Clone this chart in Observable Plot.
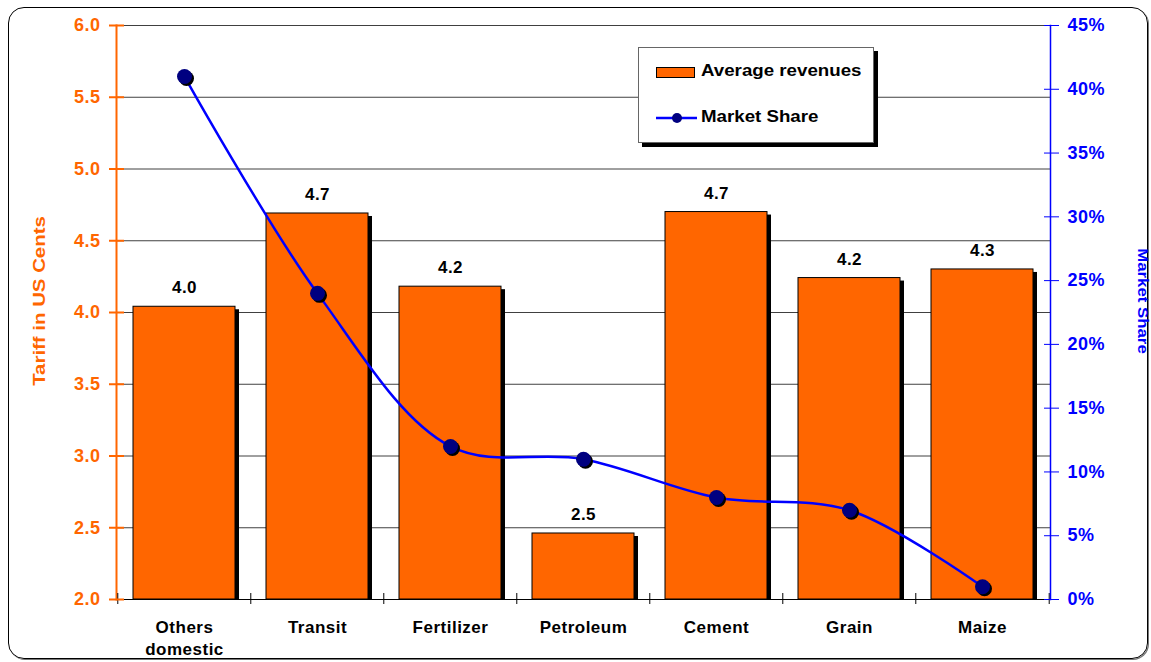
<!DOCTYPE html>
<html>
<head>
<meta charset="utf-8">
<script src="https://cdn.jsdelivr.net/npm/d3@7"></script>
<script src="https://cdn.jsdelivr.net/npm/@observablehq/plot@0.6"></script>
<style>
  html, body { margin: 0; padding: 0; background: #fff; }
  #wrap { position: relative; width: 1151px; height: 662px; overflow: hidden; font-family: "Liberation Sans", Arial, sans-serif; font-weight: bold; }
  #wrap svg { position: absolute; left: 0; top: 0; }
  #wrap svg text { letter-spacing: 0.5px; font-weight: bold; }
  #border { position: absolute; left: 8px; top: 7px; width: 1138px; height: 650px; border: 1.5px solid #000; border-radius: 16px; box-shadow: 1px 1px 0 #777; }
  .vtitle { position: absolute; white-space: nowrap; }
  #legend { position: absolute; left: 638px; top: 47px; width: 234px; height: 94px; border: 1px solid #666; background: #fff; box-shadow: 4px 4px 0 #000; }
  .lg-text { position: absolute; left: 62px; font-size: 17px; color: #000; white-space: nowrap; transform: scaleX(1.1); transform-origin: left center; }
</style>
</head>
<body>
<div id="wrap">
  <div id="border"></div>
  <div id="chart"></div>
</div>
<script>
// ---------- data ----------
const categories = ["Others domestic", "Transit", "Fertilizer", "Petroleum", "Cement", "Grain", "Maize"];
const revenues = [4.04, 4.69, 4.18, 2.46, 4.70, 4.24, 4.30];      // Tariff in US cents
const marketShare = [41, 24, 12, 11, 8, 7, 1];                       // percent
const leftTicks = [2.0, 2.5, 3.0, 3.5, 4.0, 4.5, 5.0, 5.5, 6.0];
const rightTicks = [0, 5, 10, 15, 20, 25, 30, 35, 40, 45];
const seriesNames = ["Average revenues", "Market Share"];
const axisTitles = ["Tariff in US Cents", "Market Share"];

const data = categories.map((c, i) => ({category: c, revenue: revenues[i], share: marketShare[i]}));

// ---------- layout ----------
const W = 1151, H = 662;
const M = {left: 116, right: 101, top: 25, bottom: 63};
const step = (W - M.left - M.right) / categories.length;
const ORANGE = "#FF6600", BLUE = "#0000FF", NAVY = "#000080";
const font = "Liberation Sans, Arial, sans-serif";
const xScale = {type: "band", domain: categories, paddingInner: 0.23, paddingOuter: 0.115};
const base = leftTicks[0];

const plot1 = Plot.plot({
  width: W, height: H,
  marginLeft: M.left, marginRight: M.right, marginTop: M.top, marginBottom: M.bottom,
  style: {fontFamily: font, background: "transparent", overflow: "visible"},
  x: xScale,
  y: {domain: [leftTicks[0], leftTicks[leftTicks.length - 1]]},
  marks: [
    Plot.gridY(leftTicks.slice(1), {stroke: "#000", strokeOpacity: 0.75, strokeWidth: 1}),
    // bar shadows
    Plot.rectY(data, {x: "category", y1: () => base, y2: "revenue", fill: "#000", dx: 4, dy: 3, insetBottom: 3}),
    // bars
    Plot.rectY(data, {x: "category", y1: () => base, y2: "revenue", fill: ORANGE, stroke: "#000", strokeWidth: 1}),
    // value labels
    Plot.text(data, {x: "category", y: "revenue", text: d => d.revenue.toFixed(1), dy: -19, fontSize: 17, fontWeight: "bold", fill: "#000"}),
    // axis lines
    Plot.frame({anchor: "bottom", stroke: "#000", strokeWidth: 1}),
    Plot.frame({anchor: "left", stroke: ORANGE, strokeWidth: 2}),
    // category boundary ticks
    Plot.ruleX(categories, {x: d => d, dx: -step / 2, y1: () => base, y2: () => base, insetTop: -6, insetBottom: -5, stroke: "#000"}),
    Plot.ruleX(categories.slice(-1), {x: d => d, dx: step / 2, y1: () => base, y2: () => base, insetTop: -6, insetBottom: -5, stroke: "#000"}),
    // left axis
    Plot.axisY({anchor: "left", ticks: leftTicks, tickFormat: d3.format(".1f"), tickSize: 7, tickPadding: 9, fontSize: 18, fontWeight: "bold", color: ORANGE, strokeWidth: 2, label: null}),
    Plot.axisY({anchor: "left", ticks: leftTicks, tickFormat: () => "", tickSize: -8, color: ORANGE, strokeWidth: 2, label: null}),
    // x axis labels
    Plot.axisX({anchor: "bottom", tickSize: 0, tickPadding: 18, fontSize: 17, fontWeight: "bold", color: "#000", label: null, lineHeight: 1.3,
      tickFormat: d => d.replace(" ", "\n")})
  ]
});

const plot2 = Plot.plot({
  width: W, height: H,
  marginLeft: M.left, marginRight: M.right, marginTop: M.top, marginBottom: M.bottom,
  style: {fontFamily: font, background: "transparent", overflow: "visible"},
  x: {...xScale, axis: null},
  y: {domain: [rightTicks[0], rightTicks[rightTicks.length - 1]]},
  marks: [
    Plot.frame({anchor: "right", stroke: BLUE, strokeWidth: 1.5}),
    Plot.axisY({anchor: "right", ticks: rightTicks, tickFormat: d => d + "%", tickSize: 8, tickPadding: 9, fontSize: 18, fontWeight: "bold", color: BLUE, label: null}),
    Plot.axisY({anchor: "right", ticks: rightTicks, tickFormat: () => "", tickSize: -7, color: BLUE, label: null}),
    Plot.line(data, {x: "category", y: "share", curve: "catmull-rom", stroke: BLUE, strokeWidth: 2.5}),
    Plot.dot(data, {x: "category", y: "share", r: 7.5, fill: "#000", dx: 2, dy: 2}),
    Plot.dot(data, {x: "category", y: "share", r: 7.5, fill: NAVY})
  ]
});

const chart = document.getElementById("chart");
chart.appendChild(plot1);
chart.appendChild(plot2);

const wrap = document.getElementById("wrap");

// axis titles
const t1 = document.createElement("div");
t1.className = "vtitle";
t1.textContent = axisTitles[0];
Object.assign(t1.style, {left: "40px", top: "301px", color: ORANGE, fontSize: "17px",
  transform: "translate(-50%,-50%) rotate(-90deg) scaleX(1.2)"});
wrap.appendChild(t1);

const t2 = document.createElement("div");
t2.className = "vtitle";
t2.textContent = axisTitles[1];
Object.assign(t2.style, {left: "1143px", top: "301px", color: BLUE, fontSize: "14px",
  transform: "translate(-50%,-50%) rotate(90deg) scaleX(1.2)"});
wrap.appendChild(t2);

// legend
const lg = document.createElement("div");
lg.id = "legend";
lg.innerHTML = `
  <div style="position:absolute;left:17px;top:19px;width:37px;height:9px;background:${ORANGE};border:1px solid #000;"></div>
  <div class="lg-text" style="top:13px;">${seriesNames[0]}</div>
  <svg width="44" height="14" style="position:absolute;left:17px;top:63px;overflow:visible">
    <line x1="0" y1="7" x2="41" y2="7" stroke="${BLUE}" stroke-width="2.5"/>
    <circle cx="21" cy="7" r="5" fill="${NAVY}"/>
  </svg>
  <div class="lg-text" style="top:59px;">${seriesNames[1]}</div>`;
wrap.appendChild(lg);
</script>
</body>
</html>
